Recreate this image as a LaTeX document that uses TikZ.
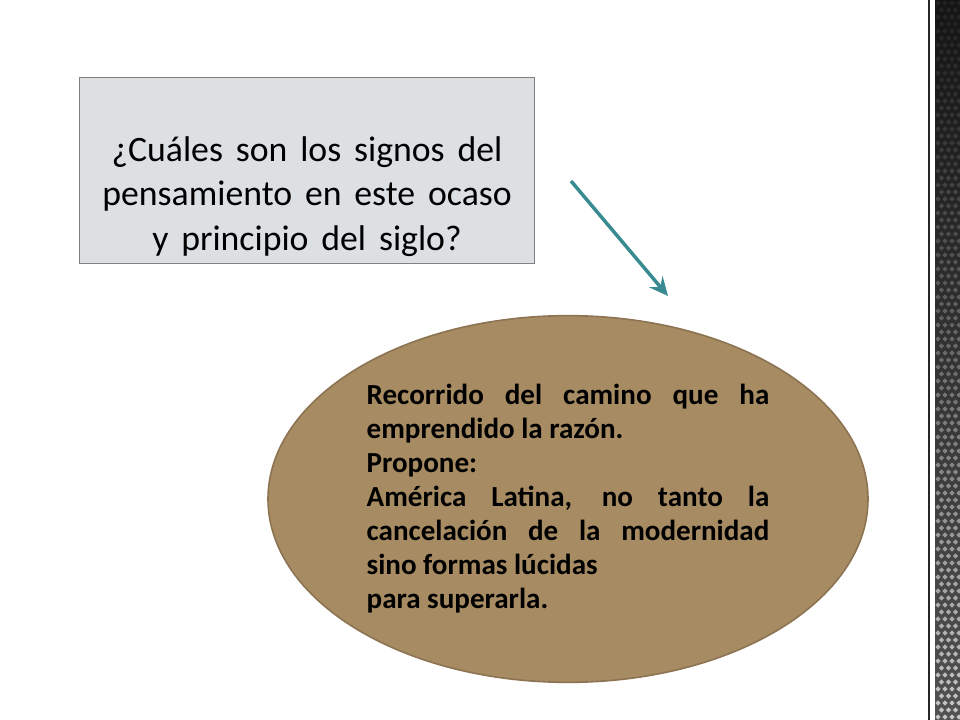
\documentclass[tikz,border=0pt]{standalone}
\usepackage{fontspec}
\setmainfont{Carlito}
\usetikzlibrary{calc}
\usetikzlibrary{positioning}
\usetikzlibrary{arrows.meta}
\usetikzlibrary{shapes.geometric}

\definecolor{boxgray}{RGB}{221,224,227}
\definecolor{boxline}{RGB}{128,128,128}
\definecolor{ovalfill}{RGB}{167,139,99}
\definecolor{ovalline}{RGB}{140,115,82}
\definecolor{arrowteal}{RGB}{56,139,145}
\newcommand{\anchoespacio}{\spaceskip=0.36em plus 0.1em\relax}

\begin{document}
\begin{tikzpicture}[x=0.75pt, y=-0.75pt,
        qbox/.style={rectangle, draw=boxline, fill=boxgray, line width=0.8pt,
            minimum width=341.25pt, minimum height=139.5pt, anchor=north west},
        qtext/.style={align=center, font=\fontsize{26.8}{33.5}\selectfont\anchoespacio},
        oval/.style={ellipse, draw=ovalline, fill=ovalfill, line width=1.2pt,
            minimum width=450pt, minimum height=275pt, inner sep=0pt,
            font=\fontsize{21.8}{25.5}\selectfont\bfseries},
        flecha/.style={draw=arrowteal, line width=2.6pt, -{Stealth[length=14pt, width=13pt, inset=5pt]}}]
            \useasboundingbox (0, 0) rectangle (960, 720);
            \fill[white] (0, 0) rectangle (960, 720);
            % right border strip
            \fill[black!85] (927.5, 0) rectangle (930, 720);
            \shade[top color=black!92, bottom color=black!68] (935, 0) rectangle (960, 720);
            \begin{scope}
                \clip (935, 0) rectangle (960, 720);
                \foreach \r in {0, ..., 103}
                {
                    \foreach \c in {0, ..., 3}
                    {
                        \pgfmathsetmacro{\dx}{938 + 7*\c + mod(\r, 2)*3.5}
                        \pgfmathsetmacro{\dy}{3 + 7*\r}
                        \pgfmathsetmacro{\op}{0.06 + 0.62*(\dy/720)^1.5}
                        \fill[white, opacity=\op] (\dx, \dy - 2.6) -- ++(2.6, 2.6) -- ++(-2.6, 2.6) -- ++(-2.6, -2.6) -- cycle;
                    }
                }
            \end{scope}
            % question box
            \node[qbox] (pregunta) at (79, 77) {};
            \node[qtext] (pregunta texto) at ($(pregunta.center) + (0, 26)$)
                {¿Cuáles son los signos del\\ pensamiento en este ocaso\\ y principio del siglo?};
            % answer oval
            \node[oval] (respuesta) at (568, 499)
                {\parbox{302pt}{Recorrido del camino que ha\linebreak emprendido la razón.\\
                Propone:\\
                América Latina, no tanto la\linebreak cancelación de la modernidad\linebreak sino formas lúcidas\\
                para superarla.}};
            % arrow
            \coordinate (flecha inicio) at (571, 181);
            \coordinate (flecha fin) at (668, 296);
            \draw[flecha] (flecha inicio) -- (flecha fin);
        \end{tikzpicture}
\end{document}
